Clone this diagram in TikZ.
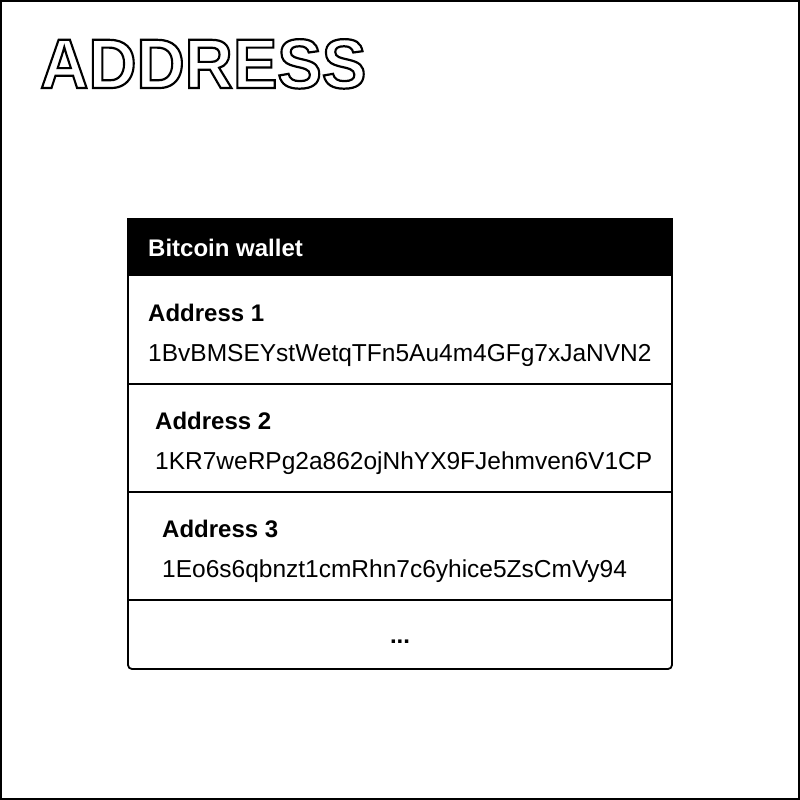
\documentclass[tikz,border=0pt]{standalone}
\usepackage{fontspec}
\setmainfont{Liberation Sans}
\begin{document}
\begin{tikzpicture}[x=1pt,y=-1pt,
  hdr/.style={font=\fontsize{24}{27}\selectfont\bfseries, text=white, anchor=base west, inner sep=0},
  lbl/.style={font=\fontsize{24}{27}\selectfont\bfseries, anchor=base west, inner sep=0},
  addr/.style={font=\fontsize{24.5}{27}\selectfont, anchor=base west, inner sep=0},
  sep/.style={line width=1.6pt}]
\useasboundingbox (0,0) rectangle (800,800);
\draw[line width=2pt] (1,1) rectangle (799,799);
\node[anchor=base west, inner sep=0, font=\fontsize{70}{80}\selectfont\bfseries] (title) at (40,88)
  {\scalebox{0.953}[1]{\special{pdf:literal direct 1 Tr 2.2 w}ADDRESS\special{pdf:literal direct 0 Tr}}};
% table
\draw[line width=1.8pt, rounded corners=4pt] (128,219) -- (128,669) -- (672,669) -- (672,219);
\fill[black] (127,218) rectangle (673,276);
\draw[sep] (128,384) -- (672,384);
\draw[sep] (128,492) -- (672,492);
\draw[sep] (128,600) -- (672,600);
\node[hdr] (h) at (148,256) {Bitcoin wallet};
\node[lbl] (l1) at (148,321) {Address 1};
\node[addr] (a1) at (148,361) {1BvBMSEYstWetqTFn5Au4m4GFg7xJaNVN2};
\node[lbl] (l2) at (155,429) {Address 2};
\node[addr] (a2) at (155,469) {1KR7weRPg2a862ojNhYX9FJehmven6V1CP};
\node[lbl] (l3) at (162,537) {Address 3};
\node[addr] (a3) at (162,577) {1Eo6s6qbnzt1cmRhn7c6yhice5ZsCmVy94};
\node[lbl, anchor=base] (dots) at (400,643) {...};
\end{tikzpicture}
\end{document}
